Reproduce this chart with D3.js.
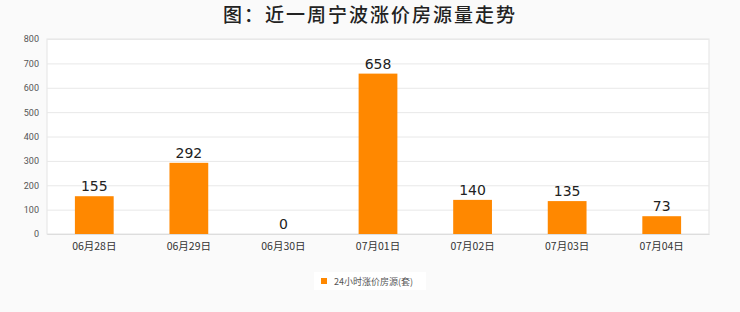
<!DOCTYPE html>
<html>
<head>
<meta charset="utf-8">
<script src="https://cdn.jsdelivr.net/npm/d3@7"></script>
<style>
  body { margin: 0; background: #fafafa; }
  svg { display: block; }
</style>
</head>
<body>
<div id="chart"></div>
<script>
const dates = ["06月28日", "06月29日", "06月30日", "07月01日", "07月02日", "07月03日", "07月04日"];
const counts = [155, 292, 0, 658, 140, 135, 73];
const yTicks = [0, 100, 200, 300, 400, 500, 600, 700, 800];
const seriesName = "24小时涨价房源(套)";
const title = "图：近一周宁波涨价房源量走势";

const W = 740, H = 312;
const margin = { top: 39, right: 31, bottom: 78, left: 47 };
const width = W - margin.left - margin.right;
const height = H - margin.top - margin.bottom;
const barColor = "#ff8800";

const svg = d3.select("#chart").append("svg")
    .attr("width", W)
    .attr("height", H);

// title
svg.append("text")
    .attr("x", W / 2)
    .attr("y", 22)
    .attr("text-anchor", "middle")
    .style("font-family", "'Noto Sans CJK SC', sans-serif")
    .style("font-size", "19px")
    .style("font-weight", "500")
    .style("letter-spacing", "2px")
    .style("fill", "#222")
    .text(title);

const g = svg.append("g")
    .attr("transform", "translate(" + margin.left + "," + margin.top + ")");

// plot background
g.append("rect")
    .attr("width", width)
    .attr("height", height)
    .attr("fill", "#fff")
    .attr("stroke", "#e3e3e3");

const x = d3.scaleBand().domain(dates).range([0, width]).paddingInner(0.59).paddingOuter(0.295);
const y = d3.scaleLinear().domain([0, 800]).range([height, 0]);

// grid + y labels
const yAxis = g.append("g")
    .call(d3.axisLeft(y).tickValues(yTicks).tickSize(-width).tickPadding(8));
yAxis.select(".domain").remove();
yAxis.selectAll(".tick line").attr("stroke", "#e8e8e8");
yAxis.selectAll(".tick text")
    .style("font-family", "Roboto, sans-serif")
    .style("font-size", "9px")
    .style("fill", "#555");

// bars
g.selectAll("rect.bar")
    .data(counts)
    .enter()
    .append("rect")
    .attr("class", "bar")
    .attr("x", (d, i) => x(dates[i]))
    .attr("y", d => y(d))
    .attr("width", x.bandwidth())
    .attr("height", d => height - y(d))
    .attr("fill", barColor);

// value labels
g.selectAll("text.value")
    .data(counts)
    .enter()
    .append("text")
    .attr("class", "value")
    .attr("x", (d, i) => x(dates[i]) + x.bandwidth() / 2)
    .attr("y", d => y(d) - 5)
    .attr("text-anchor", "middle")
    .style("font-family", "'DejaVu Sans', sans-serif")
    .style("font-size", "14px")
    .style("fill", "#222")
    .text(d => d);

// x axis
const xAxis = g.append("g")
    .attr("transform", "translate(0," + height + ")")
    .call(d3.axisBottom(x).tickSize(0).tickPadding(9));
xAxis.select(".domain").attr("stroke", "#ddd");
xAxis.selectAll(".tick text")
    .style("font-family", "'Noto Sans CJK SC', sans-serif")
    .style("font-size", "10.5px")
    .style("fill", "#333");

// legend
const legend = svg.append("g").attr("transform", "translate(318,276)");
legend.append("rect")
    .attr("x", -4).attr("y", -4)
    .attr("width", 112).attr("height", 18)
    .attr("fill", "#fff");
legend.append("rect")
    .attr("x", 3).attr("y", 2)
    .attr("width", 6).attr("height", 6)
    .attr("fill", barColor);
legend.append("text")
    .attr("x", 16).attr("y", 9)
    .style("font-family", "'Noto Sans CJK SC', sans-serif")
    .style("font-size", "9px")
    .style("fill", "#555")
    .text(seriesName);
</script>
</body>
</html>
